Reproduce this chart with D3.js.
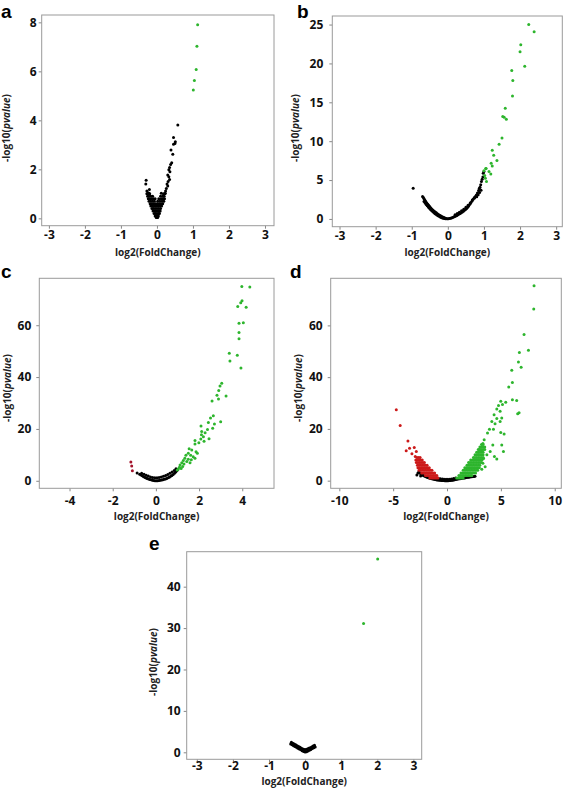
<!DOCTYPE html>
<html><head><meta charset="utf-8">
<script src="https://cdn.jsdelivr.net/npm/d3@7"></script>
<style>body{margin:0;background:#fff}</style>
</head><body>
<svg id="chart" width="567" height="795"></svg>
<script>
// ---------- DATA (log2 FoldChange, -log10 pvalue) ----------
const panelLetters = ["a","b","c","d","e"];
const xTitle = "log2(FoldChange)";

const aXTicks = [-3,-2,-1,0,1,2,3];
const aYTicks = [0,2,4,6,8];
const aGreen = [[1.13,7.90],[1.11,7.02],[1.09,6.08],[1.04,5.63],[1.01,5.24]];
const aBlack = [
 [0.58,3.81],[0.46,3.30],[0.51,3.13],[0.50,3.06],[0.46,3.02],[0.39,2.79],[0.44,2.62],[0.41,2.27],[0.38,2.20],
 [0.35,2.08],[0.33,1.98],[0.36,1.90],[0.30,1.77],[0.33,1.70],[0.35,1.59],[0.31,1.50],[0.28,1.40],[0.30,1.32],
 [0.26,1.22],[0.24,1.12],[0.23,1.02],[0.12,1.02],
 [-0.30,1.56],[-0.31,1.40],[-0.21,1.18],[-0.28,1.12],[-0.25,1.05],[-0.22,1.02],
 [-0.28,1.0],[-0.24,1.0],[-0.20,1.0],[0.18,1.0],[0.22,1.0],
 [-0.26,0.9],[-0.22,0.9],[-0.17,0.9],[-0.12,0.9],[0.10,0.9],[0.16,0.9],[0.20,0.9],
 [-0.24,0.8],[-0.20,0.8],[-0.15,0.8],[-0.10,0.8],[-0.05,0.8],[0.05,0.8],[0.12,0.8],[0.17,0.8],[0.21,0.8],
 [-0.22,0.7],[-0.17,0.7],[-0.12,0.7],[-0.07,0.7],[0.02,0.7],[0.08,0.7],[0.14,0.7],[0.19,0.7],
 [-0.19,0.6],[-0.14,0.6],[-0.09,0.6],[-0.04,0.6],[0.01,0.6],[0.06,0.6],[0.11,0.6],[0.16,0.6],
 [-0.17,0.5],[-0.12,0.5],[-0.07,0.5],[-0.02,0.5],[0.03,0.5],[0.08,0.5],[0.13,0.5],
 [-0.14,0.4],[-0.10,0.4],[-0.05,0.4],[0.00,0.4],[0.05,0.4],[0.10,0.4],
 [-0.11,0.3],[-0.07,0.3],[-0.03,0.3],[0.02,0.3],[0.06,0.3],[0.09,0.3],
 [-0.08,0.2],[-0.04,0.2],[0.00,0.2],[0.04,0.2],[0.07,0.2],
 [-0.05,0.1],[-0.02,0.1],[0.02,0.1],[0.04,0.1],
 [-0.02,0.03],[0.00,0.03],[0.02,0.03]
];

const bXTicks = [-3,-2,-1,0,1,2,3];
const bYTicks = [0,5,10,15,20,25];
const bGreen = [
 [2.24,25.0],[2.39,24.07],[2.02,22.4],[2.00,21.5],[2.13,19.65],[1.77,19.1],[1.80,17.8],[1.79,15.8],
 [1.59,14.25],[1.52,13.17],[1.56,13.09],[1.62,12.83],[1.50,10.42],[1.42,9.6],[1.23,8.84],[1.27,8.2],
 [1.36,7.5],[1.20,7.17],[1.23,6.82],[1.06,6.47],[1.14,6.09],[1.19,5.79],[1.02,5.58],[1.04,5.24],[1.07,4.80],
 [1.05,6.5],[1.00,6.2]
];
const bBlack = [
 [-0.96,3.95],
 [-0.70,2.87],[-0.68,2.75],[-0.66,2.60],[-0.64,2.45],[-0.62,2.30],[-0.60,2.15],[-0.58,2.02],[-0.56,1.90],
 [-0.54,1.78],[-0.52,1.66],[-0.50,1.55],[-0.47,1.40],[-0.44,1.25],[-0.41,1.12],[-0.38,1.00],[-0.35,0.88],
 [-0.32,0.78],[-0.29,0.68],[-0.26,0.58],[-0.23,0.48],[-0.20,0.40],[-0.17,0.32],[-0.14,0.25],[-0.11,0.18],
 [-0.08,0.12],[-0.05,0.07],[-0.02,0.03],[0.01,0.01],
 [-0.66,2.25],[-0.63,2.05],[-0.60,1.85],[-0.57,1.70],[-0.54,1.52],[-0.51,1.38],[-0.48,1.22],[-0.45,1.08],
 [-0.42,0.95],[-0.39,0.82],[-0.36,0.70],[-0.33,0.60],[-0.30,0.50],[-0.27,0.41],[-0.24,0.33],[-0.21,0.26],
 [-0.18,0.19],[-0.15,0.13],[-0.12,0.08],[-0.09,0.04],[-0.06,0.02],
 [0.04,0.04],[0.07,0.08],[0.10,0.13],[0.13,0.18],[0.16,0.24],[0.19,0.30],[0.22,0.37],[0.25,0.45],[0.28,0.53],
 [0.31,0.62],[0.34,0.71],[0.37,0.80],[0.40,0.88],[0.43,0.98],[0.46,1.10],[0.49,1.22],[0.52,1.35],[0.55,1.50],
 [0.58,1.68],[0.61,1.90],[0.64,2.10],[0.67,2.32],[0.70,2.52],[0.73,2.72],[0.76,2.90],[0.79,3.09],[0.82,3.35],
 [0.85,3.65],[0.87,3.90],[0.89,4.08],[0.91,4.40],[0.93,4.80],[0.95,5.10],[0.97,5.40],[0.98,5.88],[1.00,6.09],
 [0.20,0.55],[0.26,0.70],[0.32,0.85],[0.38,1.05],[0.44,1.25],[0.50,1.50],[0.56,1.75],[0.62,2.05],[0.68,2.45],
 [0.74,2.70],[0.80,2.85],[0.84,3.10],[0.88,3.40],[0.92,3.70]
];

const cXTicks = [-4,-2,0,2,4];
const cYTicks = [0,20,40,60];
const cRed = [[-1.16,7.2],[-1.12,5.7],[-1.09,3.9]];
const cGreen = [
 [3.98,74.9],[4.35,74.7],[3.99,69.4],[3.93,68.7],[3.79,67.2],[4.18,66.9],[3.85,60.8],[4.05,61.0],[3.85,57.2],
 [3.85,54.8],[3.40,49.2],[3.77,48.4],[3.43,46.2],[3.94,43.5],[3.05,37.6],[2.97,36.6],[2.91,34.8],[2.83,33.0],
 [3.25,32.7],[2.90,31.5],[2.60,30.8],[2.66,25.1],[2.53,24.2],[2.43,22.5],[3.00,22.8],[2.71,21.9],[2.63,20.3],
 [2.09,21.1],[2.39,19.8],[2.28,18.5],[2.12,19.0],[2.11,17.8],[2.46,16.2],[2.20,17.0],[2.08,16.1],[1.81,15.5],
 [1.81,14.2],[1.99,14.7],[2.23,15.2],[1.54,12.4],[1.66,11.9],[1.86,11.2],[1.92,10.6],[1.50,10.6],[1.39,9.8],
 [1.61,9.8],[1.73,9.3],[1.34,8.7],[1.50,8.3],[1.64,8.1],[1.81,8.7],[1.27,7.8],[1.43,7.4],[1.58,7.0],[1.20,7.0],
 [1.30,6.5],[1.12,6.1],[1.24,5.5],[1.09,5.2],[1.04,4.5],[1.17,4.7],[0.99,4.2]
];
const cBlack = [
 [-0.87,3.0],[-0.75,2.5],[-0.69,2.2],[-0.63,1.9],[-0.57,1.6],[-0.50,1.3],[-0.45,1.1],[-0.40,0.9],[-0.34,0.7],
 [-0.28,0.5],[-0.22,0.35],[-0.16,0.2],[-0.10,0.1],[-0.04,0.03],[0.02,0.0],[0.08,0.05],[0.14,0.12],[0.20,0.2],
 [0.26,0.3],[0.32,0.42],[0.38,0.55],[0.44,0.72],[0.50,0.92],[0.56,1.15],[0.62,1.4],[0.68,1.7],[0.74,2.0],
 [0.80,2.4],[0.86,2.9],[0.92,3.4],[0.97,3.9],[1.00,4.3],
 [-0.66,2.9],[-0.55,2.5],[-0.45,2.1],[-0.35,1.8],[-0.25,1.5],[-0.15,1.3],[-0.05,1.2],[0.05,1.2],[0.15,1.3],
 [0.25,1.5],[0.35,1.7],[0.45,2.0],[0.55,2.4],[0.65,2.9],[0.75,3.4],[0.85,4.0],[0.93,4.6]
];

const dXTicks = [-10,-5,0,5,10];
const dYTicks = [0,20,40,60];
const dGreen = [
 [8.08,75.3],[8.05,66.3],[7.15,56.5],[6.72,49.5],[7.56,50.4],[6.63,45.9],[6.88,43.8],[6.01,42.7],[6.07,37.9],
 [5.73,36.2],[6.07,31.3],[6.47,31.0],[4.99,30.7],[5.45,30.3],[4.78,29.0],[5.15,29.4],[6.56,25.9],[6.69,26.2],
 [4.62,27.7],[4.93,26.8],[4.37,25.5],[4.62,24.0],[4.16,22.9],[4.93,22.9],[5.08,24.2],[4.46,22.0],[4.31,19.9],
 [3.94,19.9],[4.99,18.6],[5.30,18.0],[3.76,18.4],[3.45,15.8],[4.25,13.8],[5.08,13.8],[5.24,11.3],[3.33,14.4],
 [4.01,11.3],[3.70,10.0],[4.40,9.3],[4.62,8.4],[3.39,8.6],[3.23,11.3],[3.01,12.0],[2.92,10.0],[3.33,6.7],
 [3.54,5.4],[3.23,4.4],
 [3.2,14],[3.35,14],
 [3.05,13],[3.2,13],[3.35,13],[3.5,13],
 [2.9,12],[3.05,12],[3.2,12],[3.35,12],[3.5,12],
 [2.75,11],[2.9,11],[3.05,11],[3.2,11],[3.35,11],
 [2.6,10],[2.75,10],[2.9,10],[3.05,10],[3.2,10],[3.35,10],
 [2.45,9],[2.6,9],[2.75,9],[2.9,9],[3.05,9],[3.2,9],[3.35,9],
 [2.2,8],[2.35,8],[2.5,8],[2.65,8],[2.8,8],[2.95,8],[3.1,8],[3.25,8],
 [2.0,7],[2.15,7],[2.3,7],[2.45,7],[2.6,7],[2.75,7],[2.9,7],[3.05,7],[3.2,7],
 [1.85,6],[2.0,6],[2.15,6],[2.3,6],[2.45,6],[2.6,6],[2.75,6],[2.9,6],[3.05,6],
 [1.65,5],[1.8,5],[1.95,5],[2.1,5],[2.25,5],[2.4,5],[2.55,5],[2.7,5],[2.85,5],[3.0,5],
 [1.5,4],[1.65,4],[1.8,4],[1.95,4],[2.1,4],[2.25,4],[2.4,4],[2.55,4],[2.7,4],[2.85,4],
 [1.3,3],[1.45,3],[1.6,3],[1.75,3],[1.9,3],[2.05,3],[2.2,3],[2.35,3],[2.5,3],[2.65,3],
 [1.1,2],[1.25,2],[1.4,2],[1.55,2],[1.7,2],[1.85,2],[2.0,2],[2.15,2],[2.3,2],
 [0.9,1],[1.05,1],[1.2,1],[1.35,1],[1.5,1]
];
const dRed = [
 [-4.71,27.4],[-4.35,21.3],[-3.63,15.3],[-3.79,11.6],[-3.48,12.5],[-3.04,12.8],[-2.85,11.3],[-3.26,10.4],[-2.95,9.3],
 [-2.8,9],[-2.65,9],[-2.5,9],
 [-2.9,8],[-2.75,8],[-2.6,8],[-2.45,8],[-2.3,8],
 [-2.85,7],[-2.7,7],[-2.55,7],[-2.4,7],[-2.25,7],[-2.1,7],
 [-2.75,6],[-2.6,6],[-2.45,6],[-2.3,6],[-2.15,6],[-2.0,6],[-1.85,6],
 [-2.7,5],[-2.55,5],[-2.4,5],[-2.25,5],[-2.1,5],[-1.95,5],[-1.8,5],[-1.65,5],
 [-2.6,4],[-2.45,4],[-2.3,4],[-2.15,4],[-2.0,4],[-1.85,4],[-1.7,4],[-1.55,4],[-1.4,4],
 [-2.35,3],[-2.2,3],[-2.05,3],[-1.9,3],[-1.75,3],[-1.6,3],[-1.45,3],[-1.3,3],[-1.15,3],
 [-2.0,2],[-1.85,2],[-1.7,2],[-1.55,2],[-1.4,2],[-1.25,2],[-1.1,2],[-0.95,2],
 [-1.6,1],[-1.45,1],[-1.3,1],[-1.15,1],[-1.0,1],[-0.85,1]
];
const dBlack = [
 [-2.6,3.4],[-2.5,2.9],[-2.4,2.6],[-2.3,2.3],[-2.2,2.0],[-2.1,1.8],[-2.0,1.6],[-1.9,1.4],[-1.8,1.2],[-1.7,1.1],
 [-1.6,0.95],[-1.5,0.8],[-1.4,0.7],[-1.3,0.6],[-1.2,0.5],[-1.1,0.45],[-1.0,0.4],[-0.9,0.3],[-0.8,0.25],[-0.7,0.2],
 [-0.6,0.15],[-0.5,0.1],[-0.4,0.05],[-0.3,0.05],[-0.2,0],[-0.1,0],[0,0],[0.1,0],[0.2,0.05],[0.3,0.1],[0.4,0.15],
 [0.5,0.2],[0.6,0.3],[0.7,0.4],[0.8,0.45],[0.9,0.55],[1.0,0.6],[1.1,0.7],[1.2,0.75],[1.3,0.85],[1.4,0.9],
 [1.5,1.0],[1.6,1.05],[1.7,1.1],[1.8,1.2],[1.9,1.3],[2.0,1.35],[2.1,1.4],[2.2,1.5],[2.3,1.55],[2.4,1.6],
 [2.5,1.65],[2.6,1.7],
 [-0.8,0.9],[-0.6,0.7],[-0.4,0.6],[-0.2,0.5],[0,0.5],[0.2,0.5],[0.4,0.6],[0.6,0.8],[0.8,1.0],
 [-2.8,2.2],[-2.7,3.0],[-2.45,1.8]
];

const eXTicks = [-3,-2,-1,0,1,2,3];
const eYTicks = [0,10,20,30,40];
const eGreen = [[2.01,46.7],[1.62,31.1]];
const eBlack = [
 [-0.40,2.0],[-0.36,1.8],[-0.32,1.6],[-0.28,1.4],[-0.24,1.2],[-0.20,1.0],[-0.16,0.8],[-0.12,0.6],[-0.08,0.4],
 [-0.04,0.2],[0.00,0.1],[0.04,0.15],[0.08,0.3],[0.12,0.5],[0.16,0.7],[0.20,0.9],[0.24,1.1],[0.28,1.3],
 [-0.38,2.4],[-0.34,2.2],[-0.30,2.0],[-0.26,1.8],[-0.22,1.6],[-0.18,1.4],[-0.14,1.2],[-0.10,1.0],[-0.06,0.8],
 [-0.02,0.7],[0.02,0.7],[0.06,0.8],[0.10,1.0],[0.14,1.1],[0.18,1.3],[0.22,1.5],[0.26,1.7]
];

// ---------- LAYOUT ----------
const GREEN = "#2db52d", RED = "#cc1a1a", RED_C = "#a3122a", BLACK = "#000";
const panels = [
 {letter:"a", black:aBlack, green:aGreen, red:[], redColor:RED, xt:aXTicks, yt:aYTicks,
  xd:[-3.2,3.25], yd:[-0.3,8.3], box:[41.7,15,274,225.7], letterPos:[1,17.5], ylx:7, yly:128, ytGap:5, xtPad:1.5, xtitleY:256},
 {letter:"b", black:bBlack, green:bGreen, red:[], redColor:RED, xt:bXTicks, yt:bYTicks,
  xd:[-3.2,3.17], yd:[-1,26.1], box:[332.3,16,562.3,226.7], letterPos:[297,17.5], ylx:296, yly:128, ytGap:9, xtPad:1.5, xtitleY:256},
 {letter:"c", black:cBlack, green:cGreen, red:cRed, redColor:RED_C, xt:cXTicks, yt:cYTicks,
  xd:[-5.4,5.47], yd:[-2.9,78.1], box:[39.3,278.3,274,488.3], letterPos:[1,278], ylx:8, yly:388, ytGap:8, xtPad:5, xtitleY:520},
 {letter:"d", black:dBlack, green:dGreen, red:dRed, redColor:RED, xt:dXTicks, yt:dYTicks,
  xd:[-10.8,10.61], yd:[-2.95,78.2], box:[330.7,278.3,561.3,488.3], letterPos:[290,278], ylx:299, yly:388, ytGap:8, xtPad:5, xtitleY:520},
 {letter:"e", black:eBlack, green:eGreen, red:[], redColor:RED, xt:eXTicks, yt:eYTicks,
  xd:[-3.28,3.23], yd:[-1.69,48.45], box:[186.7,551.7,421.7,759.3], letterPos:[149,550], ylx:154, yly:662, ytGap:6, xtPad:-1, xtitleY:784.5}
];

const svg = d3.select("#chart");
svg.append("rect").attr("width",567).attr("height",795).attr("fill","#fff");
const FONT = "'Open Sans', 'DejaVu Sans', sans-serif";

panels.forEach(p => {
  const [L,T,R,B] = p.box;
  const x = d3.scaleLinear().domain(p.xd).range([L,R]);
  const y = d3.scaleLinear().domain(p.yd).range([B,T]);
  const g = svg.append("g");

  const xa = g.append("g").attr("transform",`translate(0,${B})`)
    .call(d3.axisBottom(x).tickValues(p.xt).tickSize(3).tickPadding(p.xtPad).tickFormat(d3.format("d")));
  const ya = g.append("g").attr("transform",`translate(${L},0)`)
    .call(d3.axisLeft(y).tickValues(p.yt).tickSize(3).tickPadding(p.ytGap-3).tickFormat(d3.format("d")));
  [xa,ya].forEach(a => {
    a.select(".domain").remove();
    a.selectAll(".tick line").attr("stroke","#888");
    a.selectAll(".tick text").attr("fill","#111").style("font-family",FONT)
      .style("font-weight","700").style("font-size","12px");
  });
  xa.selectAll(".tick text").text(d => d < 0 ? "-" + Math.abs(d) : d);

  g.append("rect").attr("x",L).attr("y",T).attr("width",R-L).attr("height",B-T)
    .attr("fill","none").attr("stroke","#9a9a9a").attr("stroke-width",1);

  const drawPts = (arr,color) => g.append("g").selectAll("circle").data(arr).join("circle")
    .attr("cx",d=>x(d[0])).attr("cy",d=>y(d[1])).attr("r",1.5).attr("fill",color);
  drawPts(p.black,BLACK);
  drawPts(p.red,p.redColor);
  drawPts(p.green,GREEN);

  g.append("text").attr("x",(L+R)/2).attr("y",p.xtitleY).attr("text-anchor","middle")
    .style("font-family",FONT).style("font-weight","700").style("font-size","10px").attr("fill","#222")
    .text(xTitle);
  const yt = g.append("text").attr("transform",`translate(${p.ylx},${p.yly}) rotate(-90)`)
    .attr("text-anchor","middle").attr("dominant-baseline","middle")
    .style("font-family",FONT).style("font-weight","700").style("font-size","10px").attr("fill","#222");
  yt.append("tspan").text("-log10(");
  yt.append("tspan").style("font-style","italic").text("pvalue");
  yt.append("tspan").text(")");
  g.append("text").attr("x",p.letterPos[0]).attr("y",p.letterPos[1])
    .style("font-family","'Liberation Sans', Arial, sans-serif").style("font-weight","700").style("font-size","19px")
    .text(p.letter);
});
</script>
</body></html>
